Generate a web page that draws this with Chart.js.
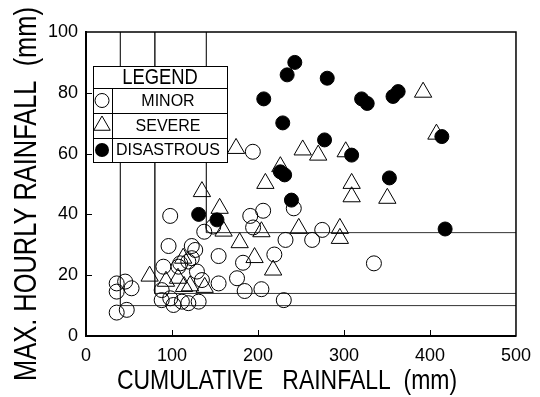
<!DOCTYPE html>
<html>
<head>
<meta charset="utf-8">
<script src="https://cdn.jsdelivr.net/npm/chart.js@4/dist/chart.umd.min.js"></script>
<style>
  html, body { margin: 0; padding: 0; background: #fff; }
  #c { display: block; }
</style>
</head>
<body>
<canvas id="c" width="540" height="397"></canvas>
<script>
// ---- data (cumulative rainfall mm, max hourly rainfall mm) ----
const minorPoints = [
  [35.7,17.3],[45.5,17.9],[53,15.7],[35.7,14.6],[47.4,8.6],[35.7,7.7],
  [90,22.8],[107.6,22.8],[119,24.5],[129,21.2],[134.8,18.4],[88,15.1],[98,12.4],
  [111.5,11.3],[119,10.8],[131,11.3],[88,11.8],[101.7,10.2],[123,25.6],[109.6,23.9],
  [96,29.6],[123,29.6],[127,28.3],[97.9,39.5],[137.5,34.3],[148,36],[154.2,26.3],
  [154.2,17.3],[175.6,19],[182.6,24.1],[184.5,14.8],[204,15.4],[230,11.8],[219,26.8],
  [191,39.5],[206,41.2],[194.3,35.7],[241.6,42],[232,31.6],[263,31.6],[274.7,34.9],
  [334.8,23.9],[194,60.6]
];
const severePoints = [
  [392,80.2],[407.5,66.4],[174.5,61.7],[252,61.2],[270,59.5],[302,60.6],[226,55.7],
  [208.6,50.2],[308.9,50.2],[308.9,45.8],[350.4,45.3],[134.8,47.5],[155.4,42],[160,34.5],
  [247.4,35.4],[204,34.3],[178.7,30.7],[196,25.8],[217.6,21.7],[295.2,35.4],[295.2,32.1],
  [74,19.7],[93,18],[107,19],[114,16.3],[121,16.5],[138,16],[113,25.6]
];
const disastrousPoints = [
  [242.8,90],[233.9,85.9],[280.5,84.8],[206.7,78],[320.5,78],[327,76.5],[357,78.8],
  [363,80.4],[228.8,70.1],[277.4,64.5],[413.8,65.6],[308.9,59.5],[226,54],[231,53],
  [352.8,52],[238.9,44.7],[131,40],[152.3,38.2],[417.6,35.2]
];
// threshold corner lines: [vertical x, horizontal y]
const thresholds = [[40,10],[80,14],[140,34]];
const xTicks = [0,100,200,300,400,500];
const yTicks = [0,20,40,60,80,100];
const legendLabels = ['MINOR','SEVERE','DISASTROUS'];
const xTitle = 'CUMULATIVE   RAINFALL  (mm)';
const yTitle = 'MAX. HOURLY RAINFALL  (mm)';

const toXY = arr => arr.map(p => ({x:p[0], y:p[1]}));

const lineSets = thresholds.map(t => ({
  label: 'threshold',
  data: [{x:t[0], y:100},{x:t[0], y:t[1]},{x:500, y:t[1]}],
  showLine: true, pointRadius: 0, borderColor: '#333', borderWidth: 1, fill: false
}));

const FONT = '"Liberation Sans", Arial, Helvetica, sans-serif';

const framePlugin = {
  id: 'frame',
  afterDatasetsDraw(chart) {
    const {ctx, chartArea: a, scales: {x, y}} = chart;
    ctx.save();
    ctx.strokeStyle = '#000';
    // frame
    ctx.lineWidth = 1.5;
    ctx.strokeRect(a.left, a.top, a.right - a.left, a.bottom - a.top);
    // inward ticks
    ctx.lineWidth = 1;
    xTicks.slice(1, -1).forEach(v => {
      const px = Math.round(x.getPixelForValue(v)) + 0.5;
      ctx.beginPath(); ctx.moveTo(px, a.bottom); ctx.lineTo(px, a.bottom - 6); ctx.stroke();
    });
    yTicks.slice(1, -1).forEach(v => {
      const py = Math.round(y.getPixelForValue(v)) + 0.5;
      ctx.beginPath(); ctx.moveTo(a.left, py); ctx.lineTo(a.left + 6, py); ctx.stroke();
    });
    // legend box
    const L = 93, T = 66, R = 227, B = 162, H = 88, D = 112;
    const rows = [88, 113, 138, 162];
    ctx.fillStyle = '#fff';
    ctx.fillRect(L, T, R - L, B - T);
    ctx.lineWidth = 1;
    ctx.strokeRect(L + 0.5, T + 0.5, R - L, B - T);
    rows.slice(0, 3).forEach(r => {
      ctx.beginPath(); ctx.moveTo(L, r + 0.5); ctx.lineTo(R, r + 0.5); ctx.stroke();
    });
    ctx.beginPath(); ctx.moveTo(D + 0.5, H); ctx.lineTo(D + 0.5, B); ctx.stroke();
    ctx.fillStyle = '#000';
    ctx.textAlign = 'center';
    ctx.textBaseline = 'middle';
    ctx.save();
    ctx.translate(160, 78);
    ctx.scale(0.92, 1.1);
    ctx.font = '20px ' + FONT;
    ctx.fillText('LEGEND', 0, 0);
    ctx.restore();
    ctx.font = '16px ' + FONT;
    legendLabels.forEach((t, i) => {
      const cy = (rows[i] + rows[i + 1]) / 2 + 1;
      ctx.fillText(t, 168, cy);
      const sx = 102, sy = (rows[i] + rows[i + 1]) / 2;
      ctx.beginPath();
      if (i === 0) { ctx.arc(sx, sy, 7, 0, Math.PI * 2); ctx.stroke(); }
      else if (i === 1) {
        const r = 9.5;
        ctx.moveTo(sx, sy - r);
        ctx.lineTo(sx + r * Math.sin(2 * Math.PI / 3), sy - r * Math.cos(2 * Math.PI / 3));
        ctx.lineTo(sx + r * Math.sin(4 * Math.PI / 3), sy - r * Math.cos(4 * Math.PI / 3));
        ctx.closePath(); ctx.stroke();
      } else { ctx.arc(sx, sy, 7, 0, Math.PI * 2); ctx.fill(); }
    });
    // axis titles (narrowed Liberation Sans)
    ctx.save();
    ctx.translate(287, 381);
    ctx.scale(0.82, 1);
    ctx.font = '28px ' + FONT;
    ctx.fillText(xTitle, 0, 0);
    ctx.restore();
    ctx.save();
    ctx.translate(27, 194);
    ctx.rotate(-Math.PI / 2);
    ctx.scale(0.82, 1);
    ctx.font = '31px ' + FONT;
    ctx.fillText(yTitle, 0, 0);
    ctx.restore();
    ctx.restore();
  }
};

new Chart(document.getElementById('c'), {
  type: 'scatter',
  data: {
    datasets: [
      { label: 'DISASTROUS', data: toXY(disastrousPoints), pointStyle: 'circle', pointRadius: 7,
        backgroundColor: '#000', borderColor: '#000', borderWidth: 1 },
      { label: 'SEVERE', data: toXY(severePoints), pointStyle: 'triangle', pointRadius: 10,
        backgroundColor: 'rgba(0,0,0,0)', borderColor: '#000', borderWidth: 1 },
      { label: 'MINOR', data: toXY(minorPoints), pointStyle: 'circle', pointRadius: 7.5,
        backgroundColor: 'rgba(0,0,0,0)', borderColor: '#000', borderWidth: 1 },
      ...lineSets
    ]
  },
  options: {
    responsive: false,
    devicePixelRatio: 1,
    animation: false,
    events: [],
    layout: { padding: { top: 32, right: 24, left: 0, bottom: 0 } },
    plugins: { legend: { display: false }, tooltip: { enabled: false } },
    scales: {
      x: {
        type: 'linear', min: 0, max: 500,
        afterFit: s => { s.height = 61; },
        afterBuildTicks: s => { s.ticks = xTicks.map(v => ({value: v})); },
        grid: { display: false, drawTicks: false },
        border: { display: true, color: '#000', width: 2 },
        ticks: { padding: 9, color: '#000', font: { family: FONT, size: 18 }, maxRotation: 0 },
        title: { display: false }
      },
      y: {
        type: 'linear', min: 0, max: 100,
        afterFit: s => { s.width = 86; },
        afterBuildTicks: s => { s.ticks = yTicks.map(v => ({value: v})); },
        grid: { display: false, drawTicks: false },
        border: { display: true, color: '#000', width: 2 },
        ticks: { padding: 8, color: '#000', font: { family: FONT, size: 18 } },
        title: { display: false }
      }
    }
  },
  plugins: [framePlugin]
});
</script>
</body>
</html>
